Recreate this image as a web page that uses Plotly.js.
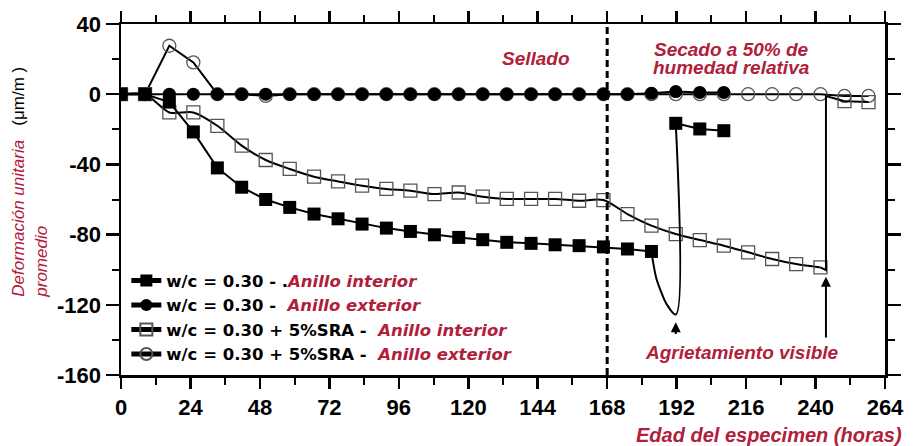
<!DOCTYPE html>
<html>
<head>
<meta charset="utf-8">
<script src="https://cdn.plot.ly/plotly-3.0.1.min.js"></script>
<style>html,body{margin:0;padding:0;background:#fff;}#chart{width:916px;height:446px;}</style>
</head>
<body>
<div id="chart"></div>
<script>
// ---- data ----
const hours = [0, 8.3, 16.7, 25, 33.3, 41.7, 50, 58.3, 66.7, 75, 83.3, 91.7, 100, 108.3, 116.7, 125, 133.3, 141.7, 150, 158.3, 166.7, 175, 183.3, 191.7, 200, 208.3, 216.7, 225, 233.3, 241.7, 250, 258.3];

// w/c = 0.30 - Anillo interior (filled squares)
const wcInnerHours = hours.slice(0, 23);
const wcInner = [0, 0, -4.5, -21.5, -42, -53, -60, -64.5, -68.3, -71, -74, -76.3, -78.2, -80.1, -81.6, -82.9, -84.4, -85, -85.8, -86.3, -87, -88.2, -89.6];
const wcInnerCrackHours = [183.3, 184, 185, 186.5, 188.5, 191.7, 191.7];
const wcInnerCrack = [-89.6, -97, -105, -112, -119.5, -125.5, -16.6];
const wcInnerAfterHours = [191.7, 200, 208.3];
const wcInnerAfter = [-16.6, -19.8, -20.8];

// w/c = 0.30 - Anillo exterior (filled circles)
const wcOuterHours = hours.slice(0, 26);
const wcOuter = [0, 0, 0, 0, 0, 0, 0, 0, 0, 0, 0, 0, 0, 0, 0, 0, 0, 0, 0, 0, 0, 0, 0.5, 1.5, 1, 1];

// w/c = 0.30 + 5%SRA - Anillo interior (open squares)
const sraInnerHours = hours.slice(0, 30);
const sraInner = [0, 0, -10.4, -10.4, -18, -29.3, -37.5, -42.6, -47, -49.7, -52.1, -54, -55, -56.9, -56, -58.4, -59.7, -59.7, -59.7, -60.7, -60.3, -68.3, -74.9, -79.7, -83.1, -86.3, -90.1, -93.9, -96.8, -98.7];
const sraInnerCrackHours = [241.7, 243.6, 243.6, 250];
const sraInnerCrack = [-98.7, -100.2, -1, -4];
const sraInnerAfterHours = [250, 258.3];
const sraInnerAfter = [-4, -4.5];

// w/c = 0.30 + 5%SRA - Anillo exterior (open circles)
const sraOuterHours = hours.slice(0, 32);
const sraOuter = [0, 0, 27.6, 18.1, 0, 0, -1, 0, 0, 0, 0, 0, 0, 0, 0, 0, 0, 0, 0, 0, 0, 0, 0, 0, 0, 0, 0, 0, 0, 0, -1, -1];

// axis ticks
const xTicks = [0, 24, 48, 72, 96, 120, 144, 168, 192, 216, 240, 264];
const xTickText = ['0', '24', '48', '72', '96', '120', '144', '168', '192', '216', '240', '264'];
const xMinor = [12, 36, 60, 84, 108, 132, 156, 180, 204, 228, 252];
const yTicks = [-160, -120, -80, -40, 0, 40];
const yTickText = ['-160', '-120', '-80', '-40', '0', '40'];
const yMinor = [-140, -100, -60, -20, 20];

const sealedEnd = 168;
const crackHours = [191.7, 243.6];
const crackArrowHead = [-130, -104];
const crackArrowTail = [-137.5, -139.5];

// ---- styling ----
const RED = '#b0203a';
const FONT = 'Liberation Sans, Arial, sans-serif';
const LEGFONT = 'DejaVu Sans, Liberation Sans, sans-serif';
const red = s => '<i><span style="color:' + RED + '">' + s + '</span></i>';

const lineBlack = {color: '#000', width: 2};
const filledSq = {symbol: 'square', size: 13, color: '#000'};
const filledCi = {symbol: 'circle', size: 13, color: '#000'};
const openSq = {symbol: 'square-open', size: 13, color: '#555', line: {width: 1.3, color: '#555'}};
const openCi = {symbol: 'circle-open', size: 13, color: '#555', line: {width: 1.3, color: '#555'}};

const traces = [
  {x: sraOuterHours, y: sraOuter, mode: 'lines+markers', name: 'w/c = 0.30 + 5%SRA -  ' + red('Anillo exterior'),
   line: lineBlack, marker: openCi, legendrank: 4},
  {x: sraInnerHours, y: sraInner, mode: 'lines+markers', name: 'w/c = 0.30 + 5%SRA -  ' + red('Anillo interior'),
   line: {color: '#000', width: 2, shape: 'spline', smoothing: 0.8}, marker: openSq, legendrank: 3},
  {x: sraInnerCrackHours, y: sraInnerCrack, mode: 'lines', showlegend: false, line: lineBlack},
  {x: sraInnerAfterHours, y: sraInnerAfter, mode: 'lines+markers', showlegend: false, line: lineBlack, marker: openSq},
  {x: wcOuterHours, y: wcOuter, mode: 'lines+markers', name: 'w/c = 0.30 -  ' + red('Anillo exterior'),
   line: lineBlack, marker: filledCi, legendrank: 2},
  {x: wcInnerHours, y: wcInner, mode: 'lines+markers', name: 'w/c = 0.30 - .' + red('Anillo interior'),
   line: lineBlack, marker: filledSq, legendrank: 1},
  {x: wcInnerCrackHours, y: wcInnerCrack, mode: 'lines', showlegend: false, line: {color: '#000', width: 2, shape: 'spline'}},
  {x: wcInnerAfterHours, y: wcInnerAfter, mode: 'lines+markers', showlegend: false, line: lineBlack, marker: filledSq}
];

const annotations = [
  {xref: 'paper', yref: 'paper', x: -0.119, y: 0.548, xanchor: 'center', yanchor: 'middle', textangle: -90, align: 'left',
   showarrow: false, font: {family: FONT, size: 17, color: '#000'},
   text: red('Deformación unitaria') + '   (μm/m )<br>' + red('promedio')},
  {xref: 'x', yref: 'y', x: 143.4, y: 20.2, showarrow: false, text: '<b><i>Sellado</i></b>',
   font: {family: FONT, size: 19, color: RED}},
  {xref: 'x', yref: 'y', x: 210.8, y: 25.6, showarrow: false, text: '<b><i>Secado a 50% de</i></b>',
   font: {family: FONT, size: 19, color: RED}},
  {xref: 'x', yref: 'y', x: 210.8, y: 15.5, showarrow: false, text: '<b><i>humedad relativa</i></b>',
   font: {family: FONT, size: 19, color: RED}},
  {xref: 'x', yref: 'y', x: 214.5, y: -147.3, showarrow: false, text: '<b><i>Agrietamiento visible</i></b>',
   font: {family: FONT, size: 19, color: RED}},
  {xref: 'paper', yref: 'paper', x: 1.025, y: -0.171, xanchor: 'right', yanchor: 'middle', showarrow: false,
   text: '<b><i>Edad del especimen (horas)</i></b>', font: {family: FONT, size: 20, color: RED}}
];
crackHours.forEach((h, i) => {
  annotations.push({xref: 'x', yref: 'y', axref: 'x', ayref: 'y', x: h, y: crackArrowHead[i], ax: h, ay: crackArrowTail[i],
    text: '', showarrow: true, arrowhead: 2, arrowsize: 1, arrowwidth: 2, arrowcolor: '#000', standoff: 0, startstandoff: 0});
});

const tickFont = {family: FONT, size: 22, weight: 'bold', color: '#000'};

const layout = {
  width: 916, height: 446,
  margin: {l: 121, r: 31, t: 24, b: 71},
  paper_bgcolor: '#fff', plot_bgcolor: '#fff',
  showlegend: true,
  legend: {x: 0.007, y: 0.318, xanchor: 'left', yanchor: 'top', bgcolor: 'rgba(0,0,0,0)',
           font: {family: LEGFONT, size: 16.5, weight: 'bold', color: '#000'}, itemsizing: 'constant', tracegroupgap: 0,
           traceorder: 'normal'},
  xaxis: {range: [0, 264], tickmode: 'array', tickvals: xTicks, ticktext: xTickText, ticks: 'outside', ticklen: 11, tickwidth: 2.5,
          tickcolor: '#000', showline: true, linewidth: 2.5, linecolor: '#000', mirror: 'ticks', showgrid: false, zeroline: false,
          tickfont: tickFont,
          minor: {tickmode: 'array', tickvals: xMinor, ticks: 'outside', ticklen: 7, tickwidth: 2, tickcolor: '#000', showgrid: false}},
  yaxis: {range: [-160, 40], tickmode: 'array', tickvals: yTicks, ticktext: yTickText, ticks: 'outside', ticklen: 13, tickwidth: 2.5,
          tickcolor: '#000', showline: true, linewidth: 2.5, linecolor: '#000', mirror: 'ticks', showgrid: false, zeroline: false,
          tickfont: tickFont,
          minor: {tickmode: 'array', tickvals: yMinor, ticks: 'outside', ticklen: 7, tickwidth: 2, tickcolor: '#000', showgrid: false}},
  shapes: [
    {type: 'line', xref: 'x', yref: 'paper', x0: sealedEnd, x1: sealedEnd, y0: 0, y1: 1,
     line: {color: '#000', width: 3, dash: '7px,4px'}}
  ],
  annotations: annotations
};

Plotly.newPlot('chart', traces, layout, {displayModeBar: false, staticPlot: true});
</script>
</body>
</html>
